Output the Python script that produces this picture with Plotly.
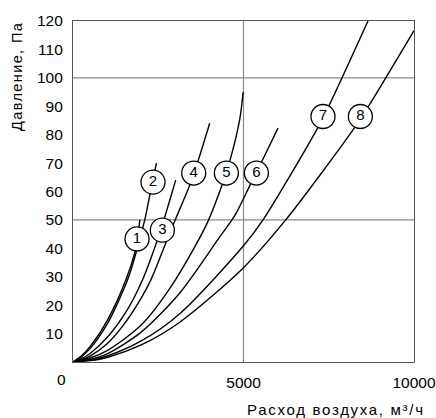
import plotly.graph_objects as go

# ---- data ----
c1_x = [0, 250, 500, 1000, 1555, 1809, 1900, 1960]
c1_y = [0, 2.2, 5.4, 14.5, 29, 38.4, 44, 50]

c2_x = [0, 250, 500, 1000, 1604, 1897, 2123, 2249, 2446]
c2_y = [0, 1.9, 4.7, 13.3, 29, 40.5, 51, 58.5, 70]

c3_x = [0, 250, 500, 1000, 1600, 2043, 2390, 2679, 2826, 3012]
c3_y = [0, 1.2, 3.0, 8.6, 18.5, 29, 40, 50.5, 56.5, 64]

c4_x = [0, 250, 500, 1000, 1466, 2000, 2287, 2660, 2981, 3422, 3666, 4009]
c4_y = [0, 0.8, 2.1, 6.4, 12.8, 22.5, 29, 40, 49.5, 62.2, 70.7, 84]

c5_x = [0, 500, 1000, 2000, 2874, 3900, 4351, 4595, 4888, 4990]
c5_y = [0, 1.4, 4, 13, 26.5, 48, 61.6, 70.6, 85.3, 95]

c6_x = [0, 500, 1000, 2000, 3131, 4302, 4742, 5182, 5525, 6012]
c6_y = [0, 0.9, 2.9, 10.5, 24.3, 44, 51.5, 62, 70.3, 82.3]

c7_x = [0, 500, 1000, 2000, 3131, 5000, 5572, 7136, 7507, 8651]
c7_y = [0, 0.7, 2.1, 7.4, 17, 40.9, 50, 81.5, 90.2, 120]

c8_x = [0, 500, 1000, 2000, 3131, 5000, 6237, 8211, 8651, 10000]
c8_y = [0, 0.5, 1.6, 6.0, 14, 33.2, 50, 81.7, 89.7, 116.6]

label_text = ["1", "2", "3", "4", "5", "6", "7", "8"]
label_x = [1877, 2346, 2620, 3540, 4498, 5378, 7331, 8427]
label_y = [43.3, 63.3, 46.4, 66.5, 66.5, 66.5, 86.4, 86.4]

y_ticks = [10, 20, 30, 40, 50, 60, 70, 80, 90, 100, 110, 120]
x_ticks = [5000, 10000]
grid_x = [5000]
grid_y = [50, 100]

FONT = "Liberation Sans, Arial, Helvetica, sans-serif"

fig = go.Figure()
curves = [(c1_x, c1_y), (c2_x, c2_y), (c3_x, c3_y), (c4_x, c4_y),
          (c5_x, c5_y), (c6_x, c6_y), (c7_x, c7_y), (c8_x, c8_y)]
for cx, cy in curves:
    fig.add_trace(go.Scatter(x=cx, y=cy, mode="lines",
                             line=dict(color="black", width=1.4, shape="spline", smoothing=0.8),
                             hoverinfo="skip", showlegend=False, cliponaxis=True))

fig.add_trace(go.Scatter(x=label_x, y=label_y, mode="markers+text",
                         text=label_text, textposition="middle center",
                         textfont=dict(family=FONT, size=15, color="black"),
                         marker=dict(size=24, color="white", line=dict(color="black", width=1.3)),
                         hoverinfo="skip", showlegend=False, cliponaxis=False))

shapes = []
for gx in grid_x:
    shapes.append(dict(type="line", xref="x", yref="y", x0=gx, x1=gx, y0=0, y1=120,
                       line=dict(color="#8a8a8a", width=1.2), layer="below"))
for gy in grid_y:
    shapes.append(dict(type="line", xref="x", yref="y", x0=0, x1=10000, y0=gy, y1=gy,
                       line=dict(color="#8a8a8a", width=1.2), layer="below"))

fig.update_layout(
    width=436, height=418,
    margin=dict(l=73, r=22, t=21, b=56, autoexpand=False),
    paper_bgcolor="white", plot_bgcolor="white",
    font=dict(family=FONT, size=15, color="black"),
    shapes=shapes,
    xaxis=dict(range=[0, 10000], tickvals=x_ticks, ticktext=["5000", "10000"],
               showgrid=False, zeroline=False, showline=True, linecolor="#555555",
               linewidth=1.2, mirror=True, ticks="", ticklabelstandoff=6,
               tickfont=dict(size=15.5), automargin=False),
    yaxis=dict(range=[0, 120], tickvals=y_ticks,
               showgrid=False, zeroline=False, showline=True, linecolor="#555555",
               linewidth=1.2, mirror=True, ticks="", ticklabelstandoff=6,
               tickfont=dict(size=15.5), automargin=False),
    annotations=[
        dict(text="0", xref="paper", yref="paper", x=-0.035, y=-0.052,
             xanchor="center", yanchor="middle", showarrow=False,
             font=dict(size=15.5)),
        dict(text="Давление, Па", xref="paper", yref="paper", x=-0.165, y=0.839,
             xanchor="center", yanchor="middle", textangle=-90, showarrow=False,
             font=dict(size=14.5)),
        dict(text="Расход воздуха, м³/ч", xref="paper", yref="paper",
             x=0.772, y=-0.14, xanchor="center", yanchor="middle", showarrow=False,
             font=dict(size=15)),
    ],
)

post = (
    "document.body.style.margin='0';document.body.style.overflow='hidden';"
    "document.querySelectorAll('.annotation-text').forEach(function(e){"
    "var t=e.textContent;"
    "if(t.indexOf('Давление')>=0){e.style.letterSpacing='1.4px';}"
    "if(t.indexOf('Расход')>=0){e.style.letterSpacing='1.7px';}"
    "});"
)

fig.write_html("out.html", config={"displayModeBar": False}, post_script=post)
